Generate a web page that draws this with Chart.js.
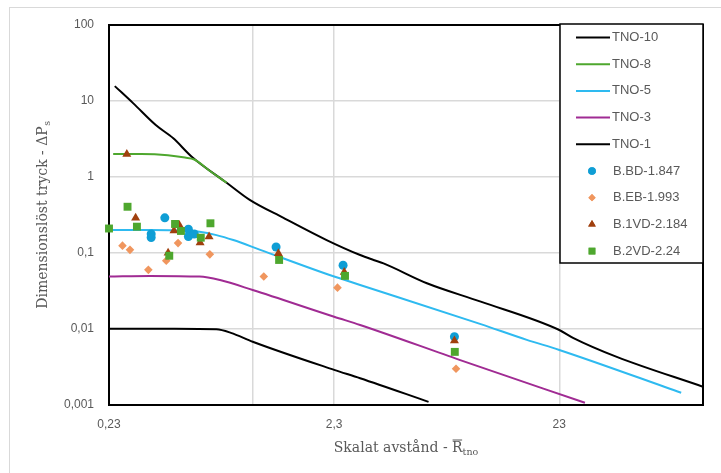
<!DOCTYPE html>
<html lang="sv">
  <head>
    <meta charset="UTF-8" />
    <title>TNO multi-energy</title>
    <style>
      html, body { margin: 0; padding: 0; background: #fff; }
      #wrap { position: relative; width: 721px; height: 473px; overflow: hidden; }
      #frame {
        position: absolute; left: 9px; top: 7px; width: 760px; height: 500px;
        border-left: 1.5px solid #d9d9d9; border-top: 1.5px solid #d9d9d9;
      }
      #wrap canvas { position: absolute; left: 0; top: 0; }
    </style>
  </head>
  <body>
    <div id="wrap">
      <div id="frame"></div>
      <canvas id="tnoChart"></canvas>
    </div>
    <script src="https://cdn.jsdelivr.net/npm/chart.js"></script>
    <script>
      // axlar
      const xTickValues = [0.23, 1, 2.3, 23, 100];
      const xTickLabels = ["0,23", "", "2,3", "23", ""];
      const yTickValues = [0.001, 0.01, 0.1, 1, 10, 100];
      const yTickLabels = ["0,001", "0,01", "0,1", "1", "10", "100"];

      // TNO-kurvor
      const tno10X = [0.244, 0.295, 0.371, 0.444, 0.536, 0.766, 0.97, 1.37, 2.13, 3.0, 3.44, 3.81, 5.94, 10.3, 23, 26.6, 41.4, 100];
      const tno10Y = [15.7, 9.3, 4.83, 3.23, 1.85, 0.84, 0.5, 0.29, 0.148, 0.094, 0.081, 0.073, 0.04, 0.0229, 0.0097, 0.0076, 0.0043, 0.00174];
      const tno8X = [0.24, 0.32, 0.42, 0.5, 0.55, 0.646, 0.766];
      const tno8Y = [2.0, 2.0, 1.93, 1.8, 1.7, 1.2, 0.84];
      const tno5X = [0.23, 0.35, 0.45, 0.58, 0.69, 0.82, 1.08, 2.3, 3.0, 10.3, 16.5, 23, 80];
      const tno5Y = [0.2, 0.2, 0.198, 0.19, 0.172, 0.148, 0.11, 0.049, 0.038, 0.0116, 0.0072, 0.0053, 0.00145];
      const tno3X = [0.23, 0.35, 0.58, 0.716, 1.0, 2.3, 3.0, 8.35, 29.9];
      const tno3Y = [0.049, 0.05, 0.049, 0.044, 0.0326, 0.0145, 0.0113, 0.0039, 0.00107];
      const tno1X = [0.23, 0.45, 0.69, 0.8, 1.0, 2.3, 3.0, 6.04];
      const tno1Y = [0.0101, 0.0101, 0.0099, 0.0089, 0.0068, 0.0029, 0.00225, 0.0011];

      // mätpunkter
      const bbdX = [0.407, 0.354, 0.354, 0.518, 0.518, 0.55, 1.27, 2.52, 7.87];
      const bbdY = [0.29, 0.178, 0.16, 0.205, 0.165, 0.178, 0.12, 0.069, 0.0079];
      const bebX = [0.264, 0.285, 0.344, 0.413, 0.466, 0.645, 1.12, 2.38, 8.0];
      const bebY = [0.125, 0.11, 0.06, 0.079, 0.135, 0.096, 0.049, 0.035, 0.003];
      const b1vdX = [0.276, 0.302, 0.421, 0.447, 0.472, 0.584, 0.64, 1.3, 2.55, 7.87];
      const b1vdY = [2.0, 0.29, 0.1, 0.197, 0.233, 0.137, 0.164, 0.099, 0.056, 0.007];
      const b2vdX = [0.23, 0.278, 0.306, 0.426, 0.452, 0.48, 0.588, 0.649, 1.31, 2.57, 7.9];
      const b2vdY = [0.21, 0.406, 0.222, 0.092, 0.241, 0.195, 0.159, 0.246, 0.081, 0.05, 0.005];

      const toPoints = (xs, ys) => xs.map((x, i) => ({ x: x, y: ys[i] }));

      function curve(label, xs, ys, color, order) {
        return {
          label: label,
          data: toPoints(xs, ys),
          showLine: true,
          borderColor: color,
          backgroundColor: color,
          borderWidth: 2,
          pointRadius: 0,
          cubicInterpolationMode: "monotone",
          order: order,
        };
      }

      function markers(label, xs, ys, color, style, radius, order) {
        return {
          label: label,
          data: toPoints(xs, ys),
          showLine: false,
          borderColor: color,
          backgroundColor: color,
          borderWidth: 0,
          pointStyle: style,
          pointRadius: radius,
          clip: false,
          order: order,
        };
      }

      const gray = "#595959";

      // ram runt ritytan
      const framePlugin = {
        id: "frame",
        beforeDatasetsDraw(chart) {
          const a = chart.chartArea;
          const ctx = chart.ctx;
          ctx.save();
          ctx.strokeStyle = "#000";
          ctx.lineWidth = 2;
          ctx.strokeRect(a.left, a.top, a.right - a.left, a.bottom - a.top);
          ctx.restore();
        },
      };

      // axeltitlar med index
      const titlePlugin = {
        id: "titles",
        afterDraw(chart) {
          const ctx = chart.ctx;
          const a = chart.chartArea;
          const big = '14px "DejaVu Serif"';
          const small = '9.5px "DejaVu Serif"';
          ctx.save();
          ctx.fillStyle = gray;
          ctx.textBaseline = "alphabetic";

          // y-titel
          const yMain = "Dimensionslöst tryck - ΔP";
          ctx.font = big;
          const w1 = ctx.measureText(yMain).width;
          ctx.font = small;
          const w2 = ctx.measureText("s").width;
          ctx.translate(47, (a.top + a.bottom) / 2);
          ctx.rotate(-Math.PI / 2);
          let sx = -(w1 + w2) / 2;
          ctx.font = big;
          ctx.fillText(yMain, sx, 0);
          ctx.font = small;
          ctx.fillText("s", sx + w1 + 0.5, 3);
          ctx.restore();

          // x-titel
          ctx.save();
          ctx.fillStyle = gray;
          ctx.strokeStyle = gray;
          const xMain = "Skalat avstånd - ";
          ctx.font = big;
          const m1 = ctx.measureText(xMain).width;
          const mR = ctx.measureText("R").width;
          ctx.font = small;
          const m2 = ctx.measureText("tno").width;
          let x0 = (a.left + a.right) / 2 - (m1 + mR + m2) / 2;
          const base = 452;
          ctx.font = big;
          ctx.fillText(xMain, x0, base);
          ctx.fillText("R", x0 + m1, base);
          ctx.lineWidth = 1;
          ctx.beginPath();
          ctx.moveTo(x0 + m1 + 0.5, base - 12);
          ctx.lineTo(x0 + m1 + mR - 0.5, base - 12);
          ctx.stroke();
          ctx.font = small;
          ctx.fillText("tno", x0 + m1 + mR, base + 3);
          ctx.restore();
        },
      };

      // förklaring inne i diagrammet
      const legendPlugin = {
        id: "boxLegend",
        afterDraw(chart) {
          const ctx = chart.ctx;
          const box = { left: 560, top: 24, right: 703, bottom: 263 };
          ctx.save();
          ctx.fillStyle = "#fff";
          ctx.fillRect(box.left, box.top, box.right - box.left, box.bottom - box.top);
          ctx.strokeStyle = "#000";
          ctx.lineWidth = 1.5;
          ctx.strokeRect(box.left, box.top, box.right - box.left, box.bottom - box.top);
          ctx.font = '13px "Liberation Sans"';
          ctx.textBaseline = "middle";
          chart.data.datasets.forEach((ds, i) => {
            const y = 37.5 + i * 26.7;
            if (ds.showLine) {
              ctx.strokeStyle = ds.borderColor;
              ctx.lineWidth = 2;
              ctx.beginPath();
              ctx.moveTo(576, y);
              ctx.lineTo(610, y);
              ctx.stroke();
            } else {
              ctx.fillStyle = ds.backgroundColor;
              Chart.helpers.drawPoint(ctx, {
                pointStyle: ds.pointStyle,
                radius: ds.pointRadius * 0.85,
                borderWidth: 0,
                rotation: 0,
              }, 592, y);
              ctx.fill();
            }
            ctx.fillStyle = gray;
            ctx.fillText(ds.label, ds.showLine ? 612 : 613, y);
          });
          ctx.restore();
        },
      };

      const ctx = document.getElementById("tnoChart").getContext("2d");
      new Chart(ctx, {
        type: "scatter",
        data: {
          datasets: [
            curve("TNO-10", tno10X, tno10Y, "#000000", 9),
            curve("TNO-8", tno8X, tno8Y, "#4ea72e", 8),
            curve("TNO-5", tno5X, tno5Y, "#2ebaf0", 7),
            curve("TNO-3", tno3X, tno3Y, "#a02b93", 6),
            curve("TNO-1", tno1X, tno1Y, "#000000", 5),
            markers("B.BD-1.847", bbdX, bbdY, "#0f9ed5", "circle", 4.5, 4),
            markers("B.EB-1.993", bebX, bebY, "#f0965e", "rectRot", 4.3, 3),
            markers("B.1VD-2.184", b1vdX, b1vdY, "#a0400e", "triangle", 5.2, 2),
            markers("B.2VD-2.24", b2vdX, b2vdY, "#4ea72e", "rect", 5.6, 1),
          ],
        },
        options: {
          responsive: true,
          maintainAspectRatio: false,
          animation: false,
          events: [],
          layout: { padding: { left: 0, top: 25, right: 18, bottom: 0 } },
          plugins: {
            legend: { display: false },
            tooltip: { enabled: false },
          },
          scales: {
            x: {
              type: "logarithmic",
              min: 0.23,
              max: 100,
              afterBuildTicks: (scale) => {
                scale.ticks = xTickValues.map((v) => ({ value: v }));
              },
              afterFit: (scale) => {
                scale.height = 68;
              },
              grid: { color: "#d9d9d9", lineWidth: 1.5, drawTicks: false },
              border: { display: false },
              ticks: {
                autoSkip: false,
                maxRotation: 0,
                padding: 12,
                color: gray,
                font: { family: "Liberation Sans", size: 12 },
                callback: (value) => {
                  const i = xTickValues.indexOf(value);
                  return i >= 0 ? xTickLabels[i] : "";
                },
              },
            },
            y: {
              type: "logarithmic",
              min: 0.001,
              max: 100,
              afterBuildTicks: (scale) => {
                scale.ticks = yTickValues.map((v) => ({ value: v }));
              },
              afterFit: (scale) => {
                scale.width = 109;
              },
              grid: { color: "#d9d9d9", lineWidth: 1.5, drawTicks: false },
              border: { display: false },
              ticks: {
                autoSkip: false,
                padding: 15,
                color: gray,
                font: { family: "Liberation Sans", size: 12 },
                callback: (value) => {
                  const i = yTickValues.indexOf(value);
                  return i >= 0 ? yTickLabels[i] : "";
                },
              },
            },
          },
        },
        plugins: [framePlugin, titlePlugin, legendPlugin],
      });
    </script>
  </body>
</html>
